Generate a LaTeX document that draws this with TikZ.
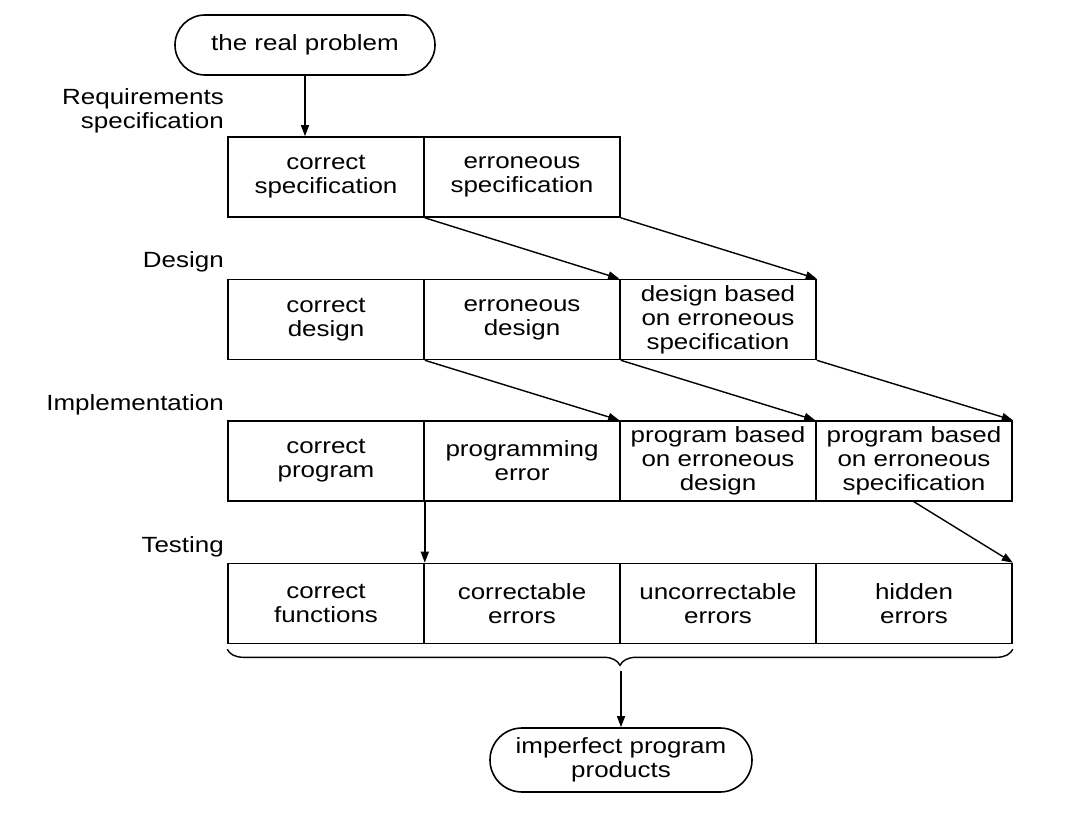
\documentclass[tikz,border=0pt]{standalone}
\usepackage{fontspec}
\setmainfont{Liberation Sans}[FakeStretch=1.18]
\usetikzlibrary{arrows.meta,decorations.pathreplacing}
\tikzset{tip/.style={-{Triangle[length=11pt,width=8pt]}, line width=1.4pt}}
\tikzset{cell/.style={draw, line width=1.6pt, minimum width=196pt, minimum height=80pt, inner sep=0pt, align=center}}
\tikzset{term/.style={draw, line width=1.6pt, rounded corners=30pt, minimum height=60pt, inner sep=0pt, align=center}}
\tikzset{phase/.style={anchor=east, align=right, inner sep=0pt}}

\begin{document}
\begin{tikzpicture}[font=\fontsize{22}{24}\selectfont, x=1pt, y=1pt]
  \useasboundingbox (0,0) rectangle (1086,812);
  % start and result
  \node[term, minimum width=260pt] (real) at (305,767) {the real problem};
  \node[term, minimum width=262pt, minimum height=64pt, rounded corners=32pt] (prod) at (621,52) {imperfect program\\products};
  % phase labels on the left
  \node[phase] (lreq) at (224,701) {Requirements\\specification};
  \node[phase] (ldes) at (224,550) {Design};
  \node[phase] (limp) at (224,407) {Implementation};
  \node[phase] (ltst) at (224,265) {Testing};
  % specification row
  \node[cell] (s1) at (326,635) {correct\\specification};
  \node[cell] (s2) at (522,635) {erroneous\\specification};
  % design row
  \node[cell] (d1) at (326,492.5) {correct\\design};
  \node[cell] (d2) at (522,492.5) {erroneous\\design};
  \node[cell] (d3) at (718,492.5) {design based\\on erroneous\\specification};
  % implementation row
  \node[cell] (p1) at (326,351) {correct\\program};
  \node[cell] (p2) at (522,351) {programming\\error};
  \node[cell] (p3) at (718,351) {program based\\on erroneous\\design};
  \node[cell] (p4) at (914,351) {program based\\on erroneous\\specification};
  % testing row
  \node[cell] (t1) at (326,208.5) {correct\\functions};
  \node[cell] (t2) at (522,208.5) {correctable\\errors};
  \node[cell] (t3) at (718,208.5) {uncorrectable\\errors};
  \node[cell] (t4) at (914,208.5) {hidden\\errors};
  % flow between the rows
  \draw[tip] (real.south) -- (real.south |- s1.north);
  \draw[tip] (s1.south east) -- (d3.north west);
  \draw[tip] (s2.south east) -- (d3.north east);
  \draw[tip] (d1.south east) -- (p3.north west);
  \draw[tip] (d2.south east) -- (p4.north west);
  \draw[tip] (d3.south east) -- (p4.north east);
  \draw[tip] (p1.south east) -- (t1.north east);
  \draw[tip] (p4.south) -- (t4.north east);
  % brace over all test outcomes
  \draw[decorate, decoration={brace, mirror, amplitude=16pt, raise=5pt}, line width=1.4pt] (t1.south west) -- (t4.south east);
  \coordinate (brc) at (621,141);
  \draw[tip] (brc) -- (prod.north);
\end{tikzpicture}
\end{document}
